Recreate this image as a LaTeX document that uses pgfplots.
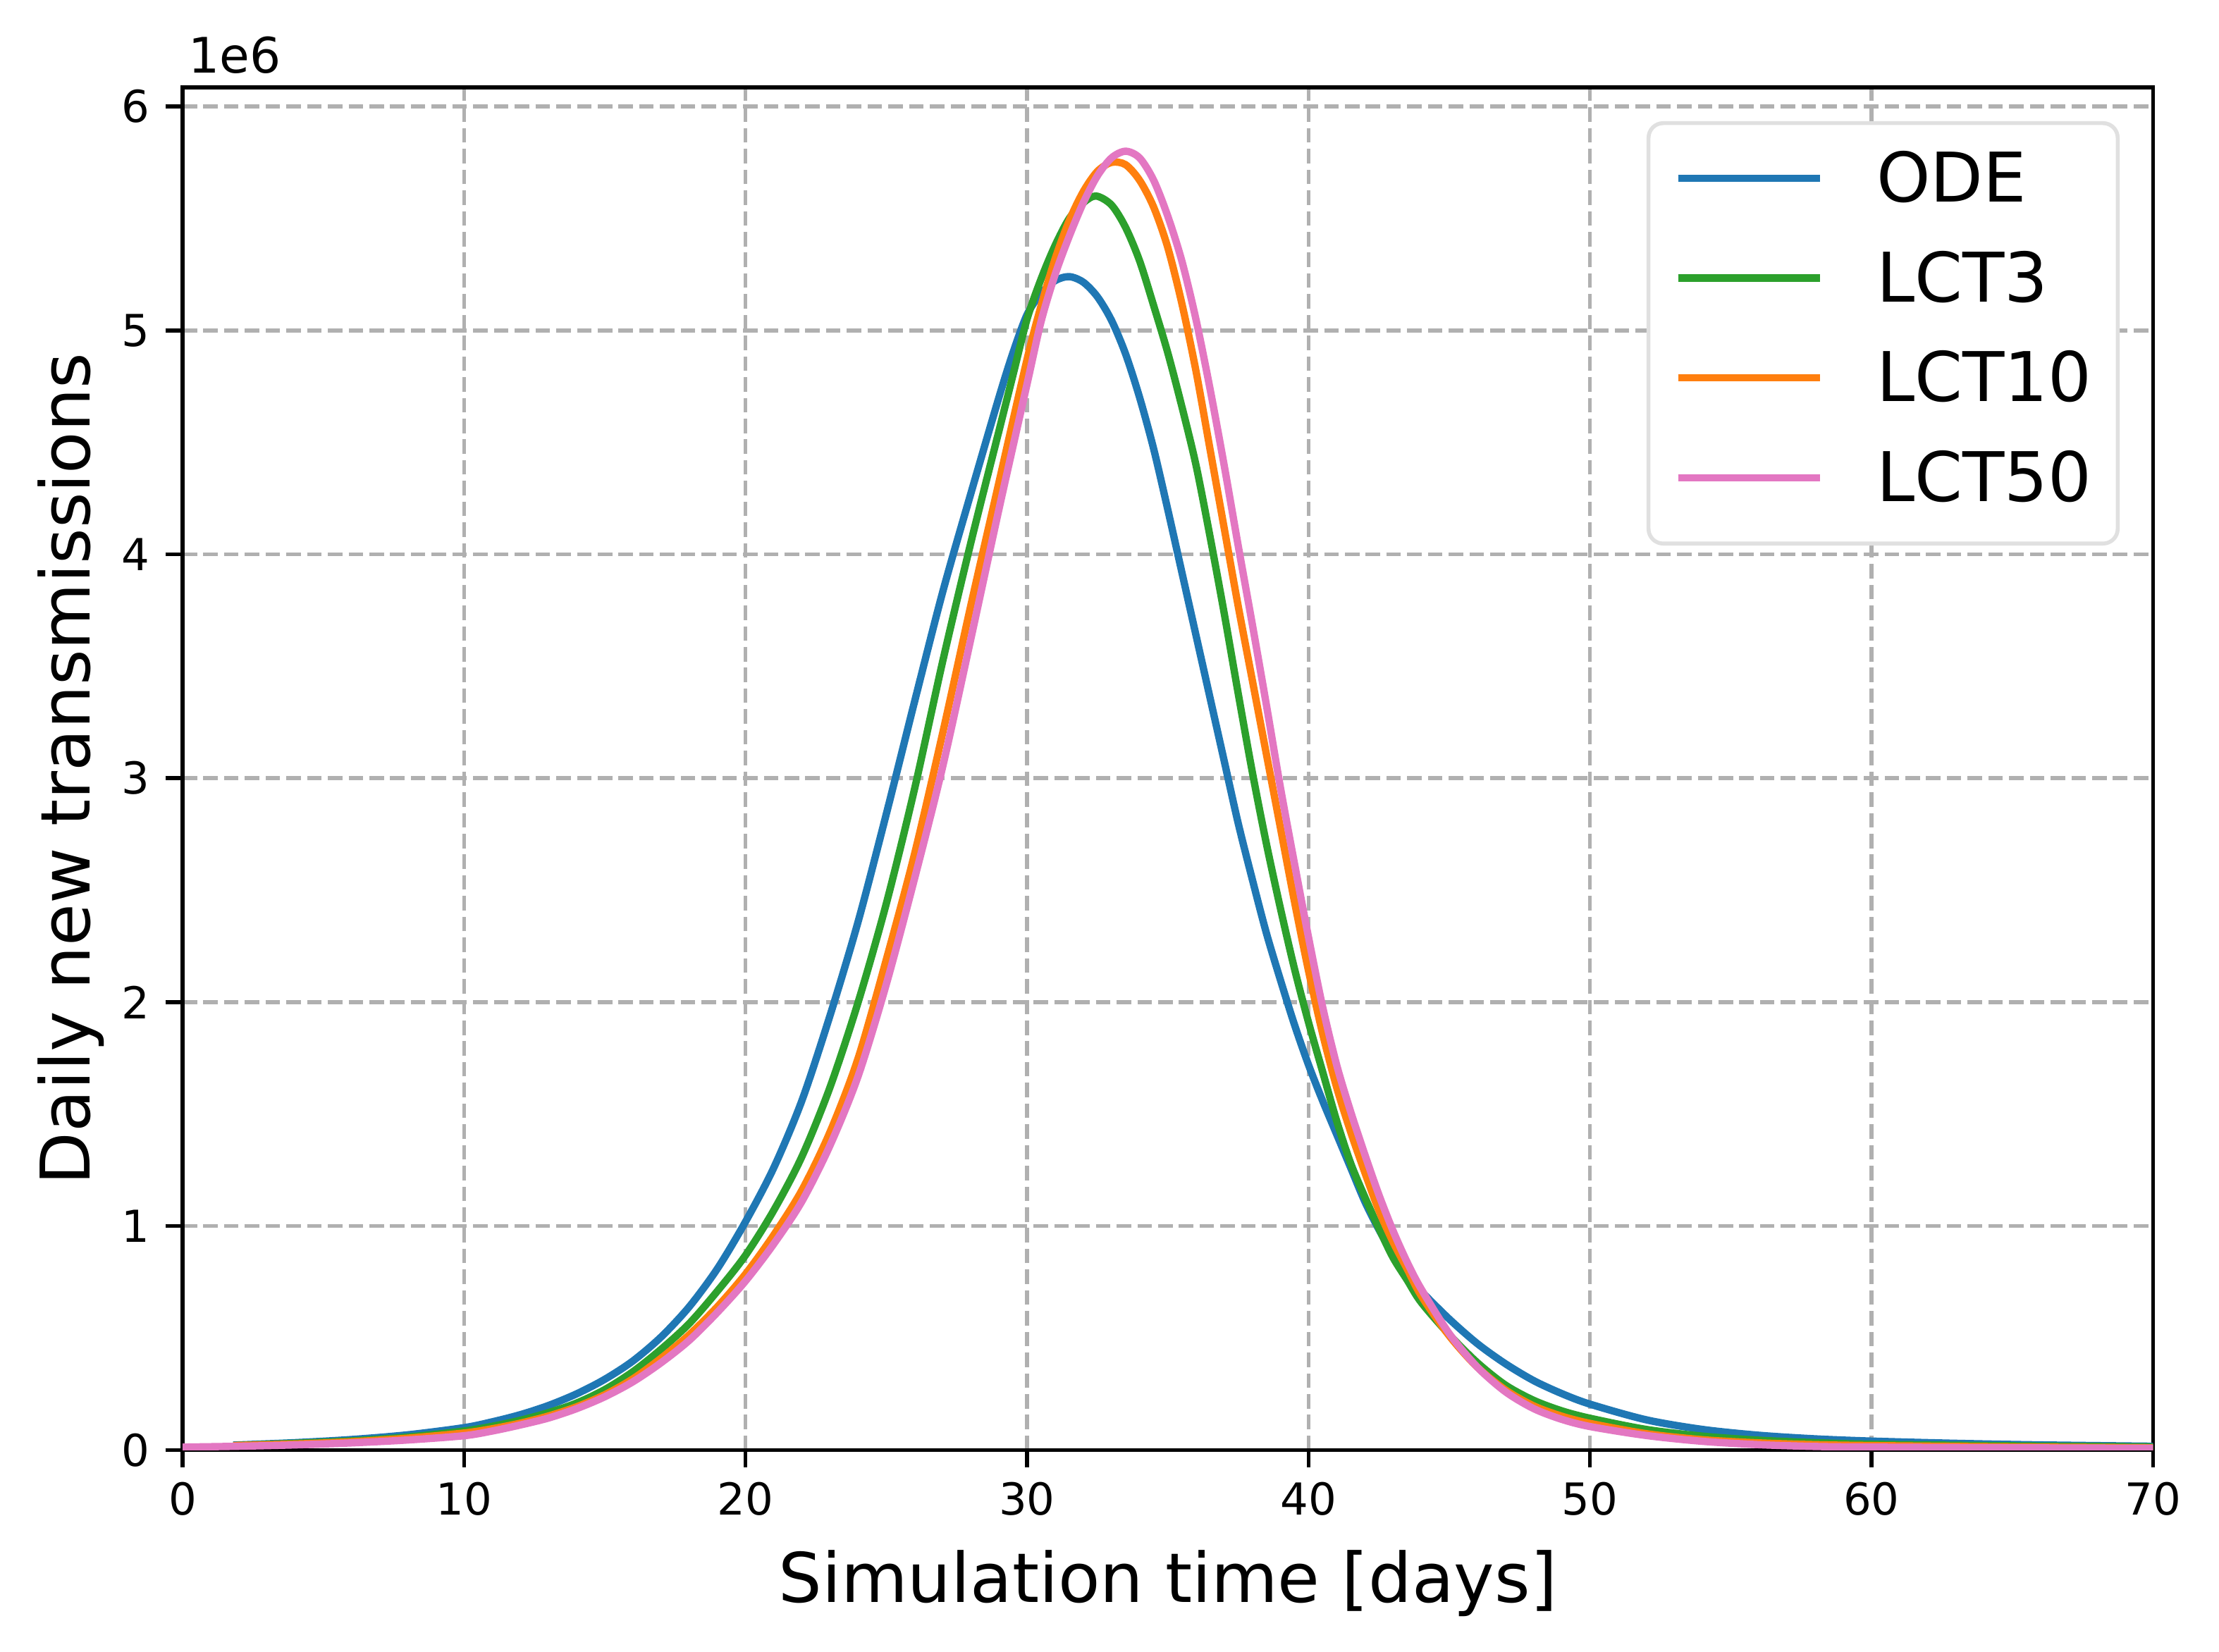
\documentclass[border=0pt]{standalone}
\usepackage{fontspec}
\setmainfont{DejaVu Sans}
\usepackage{pgfplots}
\pgfplotsset{compat=1.18}
\definecolor{cblue}{HTML}{1F77B4}
\definecolor{cgreen}{HTML}{2CA02C}
\definecolor{corange}{HTML}{FF7F0E}
\definecolor{cpink}{HTML}{E377C2}
\definecolor{gridc}{HTML}{B0B0B0}
\definecolor{legframe}{HTML}{E0E0E0}
\begin{document}
\begin{tikzpicture}
\begin{axis}[
  name=ax,
  scale only axis,
  width=402.5pt, height=278.4pt,
  xmin=0, xmax=70, ymin=0, ymax=6.085,
  xtick={0,10,...,70}, ytick={0,1,...,6},
  /pgf/number format/assume math mode=true,
  tick align=outside,
  major tick length=3.5pt,
  every tick/.style={black, line width=0.8pt},
  axis line style={line width=0.8pt},
  xtick pos=bottom, ytick pos=left,
  grid=major,
  major grid style={color=gridc, line width=0.8pt, dash pattern=on 2.96pt off 1.28pt},
  ticklabel style={font=\fontsize{9}{10.8}\selectfont},
  xticklabel style={inner sep=0pt, anchor=north},
  yticklabel style={inner sep=0pt, anchor=east},
  xticklabel shift=2.9pt,
  yticklabel shift=3.1pt,
  xlabel={Simulation time [days]},
  ylabel={Daily new transmissions},
  label style={font=\fontsize{14}{16.8}\selectfont},
  xlabel style={at={(axis description cs:0.5,-0.112)}, anchor=base, inner sep=0pt},
  ylabel style={at={(axis description cs:-0.047,0.5)}, anchor=base, inner sep=0pt},
  legend style={at={(rel axis cs:1,1)}, anchor=north east, xshift=-6.8pt, yshift=-6.9pt,
    draw=legframe, line width=0.8pt, rounded corners=3pt,
    font=\fontsize{14}{16.8}\selectfont,
    inner xsep=5.3pt, inner ysep=5.6pt,
    nodes={inner sep=0pt, text height=10.5pt, text depth=3pt},
    row sep=6.9pt, column sep=10.8pt},
  legend cell align=left,
  legend image code/.code={\draw[#1, line width=1.5pt] (0pt,1.1pt) -- (29pt,1.1pt);},
  every axis plot/.append style={line width=1.5pt, smooth, tension=0.5},
]
\addplot[cblue] coordinates {
(1.8,0.022) (4,0.033) (6,0.047) (8,0.068) (10,0.1) (11,0.126) (12,0.158) (13,0.199)
(14,0.251) (15,0.316) (16,0.398) (17,0.505) (18,0.64) (19,0.81) (20,1.02) (21,1.26)
(22,1.56) (23,1.94) (24,2.36) (25,2.84) (26,3.34) (27,3.83) (28,4.27) (29,4.7)
(29.5,4.9) (30,5.07) (30.5,5.165) (31,5.222) (31.5,5.24) (32,5.215) (32.5,5.15) (33,5.045)
(33.5,4.895) (34,4.7) (34.5,4.47) (35,4.2) (35.5,3.92) (36,3.64) (36.5,3.36) (37,3.08)
(37.5,2.8) (38,2.55) (38.5,2.31) (39,2.1) (39.5,1.9) (40,1.72) (40.5,1.56) (41,1.41)
(41.5,1.26) (42,1.11) (42.5,0.985) (43,0.875) (43.5,0.785) (44,0.71) (45,0.585) (46,0.475)
(47,0.385) (48,0.31) (49,0.252) (50,0.205) (52,0.135) (54,0.092) (56,0.066) (58,0.05)
(60,0.04) (63,0.03) (66,0.023) (70,0.017)
};
\addlegendentry{ODE}
\addplot[cgreen] coordinates {
(1.8,0.02) (4,0.03) (6,0.041) (8,0.058) (10,0.085) (11,0.106) (12,0.133) (13,0.167)
(14,0.21) (15,0.27) (16,0.35) (17,0.45) (18,0.565) (19,0.71) (20,0.87) (21,1.07)
(22,1.31) (23,1.62) (24,2.0) (25,2.44) (26,2.95) (27,3.52) (28,4.05) (29,4.55)
(29.5,4.8) (30,5.05) (30.5,5.23) (31,5.38) (31.5,5.5) (32,5.57) (32.45,5.6) (33,5.56)
(33.5,5.46) (34,5.31) (34.5,5.11) (35,4.9) (35.5,4.66) (36,4.4) (36.5,4.08) (37,3.74)
(37.5,3.38) (38,3.03) (38.5,2.71) (39,2.42) (39.5,2.15) (40,1.91) (40.5,1.69) (41,1.47)
(41.5,1.28) (42,1.13) (42.5,0.99) (43,0.86) (43.5,0.76) (44,0.66) (45,0.515) (46,0.39)
(47,0.29) (48,0.222) (49,0.175) (50,0.142) (52,0.092) (54,0.062) (56,0.044) (58,0.033)
(60,0.026) (65,0.019) (70,0.014)
};
\addlegendentry{LCT3}
\addplot[corange] coordinates {
(1.8,0.02) (4,0.027) (6,0.037) (8,0.053) (10,0.076) (11,0.095) (12,0.12) (13,0.152)
(14,0.193) (15,0.247) (16,0.318) (17,0.41) (18,0.515) (19,0.64) (20,0.786) (21,0.96)
(22,1.16) (23,1.42) (24,1.75) (25,2.19) (26,2.66) (27,3.2) (28,3.77) (29,4.32)
(30,4.87) (30.5,5.11) (31,5.32) (31.5,5.49) (32,5.62) (32.5,5.71) (33,5.75) (33.5,5.74)
(34,5.67) (34.5,5.55) (35,5.37) (35.5,5.12) (36,4.82) (36.5,4.47) (37,4.12) (37.5,3.77)
(38,3.44) (38.5,3.11) (39,2.78) (39.5,2.45) (40,2.14) (40.5,1.86) (41,1.62) (41.5,1.42)
(42,1.24) (42.5,1.07) (43,0.93) (43.5,0.81) (44,0.69) (45,0.51) (46,0.37) (47,0.268)
(48,0.197) (49,0.151) (50,0.119) (52,0.073) (54,0.046) (56,0.032) (58,0.024) (60,0.02)
(65,0.014) (70,0.01)
};
\addlegendentry{LCT10}
\addplot[cpink] coordinates {
(0,0.013) (2,0.017) (4,0.023) (6,0.032) (8,0.045) (10,0.064) (11,0.085) (12,0.112)
(13,0.143) (14,0.185) (15,0.238) (16,0.305) (17,0.39) (18,0.49) (19,0.615) (20,0.755)
(21,0.92) (22,1.11) (23,1.36) (24,1.67) (25,2.08) (26,2.55) (27,3.05) (28,3.62)
(29,4.2) (30,4.76) (30.5,5.04) (31,5.25) (31.5,5.42) (32,5.57) (32.5,5.69) (33,5.77)
(33.5,5.8) (34,5.77) (34.5,5.67) (35,5.51) (35.5,5.31) (36,5.05) (36.5,4.74) (37,4.4)
(37.5,4.04) (38,3.69) (38.5,3.33) (39,2.96) (39.5,2.62) (40,2.29) (40.5,1.98) (41,1.72)
(41.5,1.51) (42,1.32) (42.5,1.14) (43,0.98) (43.5,0.84) (44,0.72) (45,0.52) (46,0.37)
(47,0.26) (48,0.185) (49,0.137) (50,0.105) (52,0.065) (54,0.039) (56,0.024) (58,0.016)
(60,0.013) (65,0.01) (70,0.008)
};
\addlegendentry{LCT50}
\end{axis}
\node[anchor=base west, inner sep=0pt, font=\fontsize{10}{12}\selectfont] at ([xshift=1pt,yshift=2.9pt]ax.north west) {1e6};
\pgfresetboundingbox
\path[use as bounding box] ([shift={(-37.3pt,-41.2pt)}]ax.south west) rectangle ([shift={(13.5pt,17.86pt)}]ax.north east);
\end{tikzpicture}
\end{document}
